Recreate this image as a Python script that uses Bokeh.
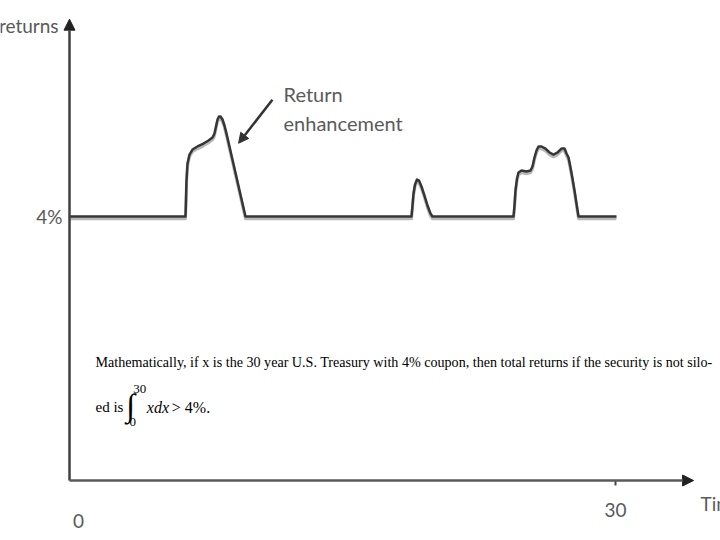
from bokeh.plotting import figure
from bokeh.models import (Range1d, FixedTicker, Label, Arrow, NormalHead,
                          ColumnDataSource, LinearAxis)
from bokeh.embed import file_html
from bokeh.resources import INLINE

# ---- data (time in years, returns in %) ----
time = [0, 6.374, 6.401, 6.429, 6.484, 6.593, 6.758, 7.033, 7.363, 7.637, 7.857,
        7.967, 8.049, 8.132, 8.214, 8.297, 8.407, 8.516, 8.626, 9.670,
        18.791, 18.846, 18.901, 18.984, 19.093, 19.203, 19.341, 19.505, 19.670, 19.835, 19.945,
        24.396, 24.451, 24.505, 24.588, 24.670, 24.835, 25.110, 25.330, 25.440, 25.549,
        25.659, 25.769, 25.934, 26.154, 26.374, 26.593, 26.813, 27.033, 27.198, 27.308,
        27.418, 27.527, 27.637, 27.747, 27.857, 27.967, 30.055]
returns = [4, 4, 4.242, 4.545, 4.803, 4.939, 5.015, 5.061, 5.106, 5.152, 5.197,
           5.258, 5.364, 5.470, 5.515, 5.515, 5.470, 5.379, 5.258, 4,
           4, 4.167, 4.348, 4.485, 4.561, 4.545, 4.455, 4.318, 4.167, 4.045, 4,
           4, 4.167, 4.394, 4.576, 4.667, 4.697, 4.682, 4.697, 4.758, 4.894,
           5.0, 5.061, 5.061, 5.030, 4.970, 4.939, 4.970, 5.030, 5.030, 4.955,
           4.894, 4.742, 4.576, 4.394, 4.197, 4, 4]

x_ticks = [30]
y_ticks = [4]
y_tick_labels = {4: "4%"}
x_end = 34.29
y_end = 6.99
note_line1 = "Mathematically, if x is the 30 year U.S. Treasury with 4% coupon, then  total returns if the security is not silo-"

LABEL_FONT = "Lato"
GRAY = "#5a5a5a"
LINE = "#363636"

p = figure(width=720, height=540, output_backend="svg", toolbar_location=None,
           x_range=Range1d(-3.791, 35.769), y_range=Range1d(-0.909, 7.273),
           x_axis_location=None, y_axis_location=None,
           min_border_left=0, min_border_right=0, min_border_top=0, min_border_bottom=0)
p.grid.visible = False
p.outline_line_color = None
p.background_fill_color = "white"

# axes placed at the origin
xax = LinearAxis(fixed_location=0, ticker=FixedTicker(ticks=x_ticks))
yax = LinearAxis(fixed_location=0, ticker=FixedTicker(ticks=y_ticks),
                 major_label_overrides=y_tick_labels)
for ax in (xax, yax):
    ax.axis_line_color = None
    ax.minor_tick_line_color = None
    ax.major_label_text_font = LABEL_FONT
    ax.major_label_text_font_size = "19px"
    ax.major_label_text_color = GRAY
xax.major_tick_in = 0
xax.major_tick_out = 5
xax.major_tick_line_width = 2
xax.major_tick_line_color = "#444444"
xax.major_label_standoff = 17
yax.major_tick_line_color = None
yax.major_tick_in = 0
yax.major_tick_out = 0
yax.major_label_standoff = 7
p.add_layout(xax, "below")
p.add_layout(yax, "left")

# axis arrows
p.add_layout(Arrow(x_start=0, y_start=0, x_end=0, y_end=y_end,
                   line_color="#404040", line_width=2.5,
                   end=NormalHead(size=11, fill_color="#222222", line_color="#222222")))
p.add_layout(Arrow(x_start=0, y_start=0, x_end=x_end, y_end=0,
                   line_color="#5a5a5a", line_width=2.5,
                   end=NormalHead(size=11, fill_color="#222222", line_color="#222222")))

# returns curve with soft shadow
src = ColumnDataSource(dict(t=time, r=returns, rs=[v - 0.035 for v in returns]))
p.line("t", "rs", source=src, line_color="#b8b8b8", line_width=3, line_join="round")
p.line("t", "r", source=src, line_color=LINE, line_width=2.5, line_join="round")

# annotation arrow + text
p.add_layout(Arrow(x_start=11.15, y_start=5.77, x_end=9.29, y_end=5.11,
                   line_color="#333333", line_width=2.5,
                   end=NormalHead(size=10, fill_color="#333333", line_color="#333333")))
for txt, yy in (("Return", 5.86), ("enhancement", 5.41)):
    p.add_layout(Label(x=11.76, y=yy, text=txt, text_font=LABEL_FONT, text_font_size="20px",
                       text_color=GRAY, text_baseline="alphabetic"))

# axis texts
p.add_layout(Label(x=-0.6, y=6.89, text="returns", text_font=LABEL_FONT, text_font_size="19px",
                   text_color=GRAY, text_align="right", text_baseline="middle"))
p.add_layout(Label(x=34.67, y=-0.35, text="Time", text_font=LABEL_FONT, text_font_size="19px",
                   text_color=GRAY, text_align="left", text_baseline="middle"))
p.add_layout(Label(x=0.49, y=-0.606, text="0", text_font=LABEL_FONT, text_font_size="19px",
                   text_color=GRAY, text_align="center", text_baseline="middle"))

# math note
SERIF = "Liberation Serif"
p.add_layout(Label(x=1.43, y=1.79, text=note_line1, text_font=SERIF, text_font_size="14.1px",
                   text_color="black", text_baseline="alphabetic"))
p.add_layout(Label(x=1.43, y=1.11, text="ed is", text_font=SERIF, text_font_size="15px",
                   text_color="black", text_baseline="alphabetic"))
p.add_layout(Label(x=3.12, y=1.15, text="\u222b", text_font=SERIF, text_font_size="32px",
                   text_color="black", text_baseline="middle"))
p.add_layout(Label(x=3.50, y=1.39, text="30", text_font=SERIF, text_font_size="13px",
                   text_color="black", text_baseline="middle"))
p.add_layout(Label(x=3.30, y=0.88, text="0", text_font=SERIF, text_font_size="13px",
                   text_color="black", text_baseline="middle"))
p.add_layout(Label(x=4.25, y=1.11, text="xdx", text_font=SERIF, text_font_size="16px",
                   text_font_style="italic", text_color="black", text_baseline="alphabetic"))
p.add_layout(Label(x=5.62, y=1.11, text="> 4%.", text_font=SERIF, text_font_size="16px",
                   text_color="black", text_baseline="alphabetic"))

open("out.html", "w").write(file_html(p, INLINE))
